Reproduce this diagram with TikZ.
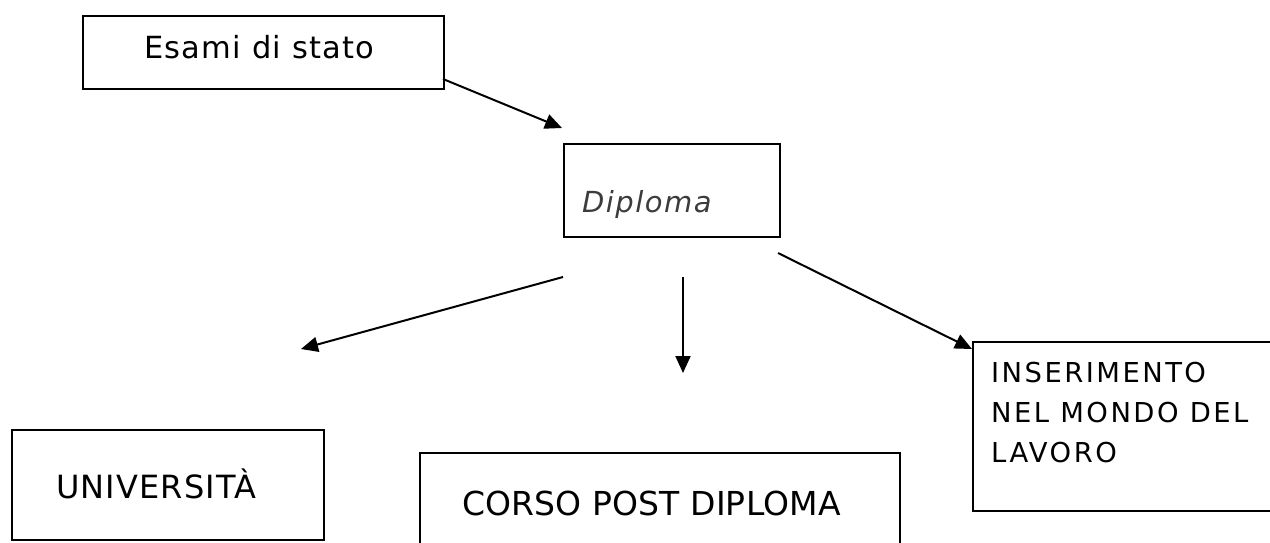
\documentclass[tikz,border=0pt]{standalone}
\usepackage{fontspec}
\usetikzlibrary{arrows.meta}
\newfontfamily\fEsami[LetterSpace=4]{DejaVu Sans}
\newfontfamily\fDipl[LetterSpace=5]{DejaVu Sans}
\newfontfamily\fUni[LetterSpace=3.5]{DejaVu Sans}
\newfontfamily\fCorso[LetterSpace=0.5]{DejaVu Sans}
\newfontfamily\fIns[LetterSpace=9]{DejaVu Sans}
\tikzset{
  boxnode/.style={draw=black, line width=2pt, inner sep=0pt, anchor=north west},
  txt/.style={inner sep=0pt, anchor=base west, text=black},
  arr/.style={line width=2pt, -{Triangle[length=17pt,width=15pt]}},
}
\begin{document}
\begin{tikzpicture}[x=1pt,y=-1pt]
\useasboundingbox (0,0) rectangle (1270,542);
\clip (0,0) rectangle (1270,542);
% boxes
\node[boxnode, minimum width=361pt, minimum height=73pt] (esami) at (82,15) {};
\node[boxnode, minimum width=216pt, minimum height=93pt] (dipl) at (563,143) {};
\node[boxnode, minimum width=312pt, minimum height=110pt] (uni) at (11,429) {};
\node[boxnode, minimum width=480pt, minimum height=120pt] (corso) at (419,452) {};
\node[boxnode, minimum width=330pt, minimum height=169pt] (ins) at (972,341) {};
% texts
\node[txt, font={\fEsami\fontsize{30.5}{36}\selectfont}] (tesami) at (144,58) {Esami di stato};
\node[txt, text={rgb,255:red,60;green,60;blue,60}, font={\fDipl\itshape\fontsize{29}{35}\selectfont}] (tdipl) at (582,212) {Diploma};
\node[txt, font={\fUni\fontsize{32}{38}\selectfont}] (tuni) at (56,498) {UNIVERSITÀ};
\node[txt, font={\fCorso\fontsize{33}{40}\selectfont}] (tcorso) at (462,515) {CORSO POST DIPLOMA};
\node[inner sep=0pt, anchor=north west, align=left, font={\fIns\fontsize{27.4}{40}\selectfont}] (tins) at (991,362) {INSERIMENTO\\NEL MONDO DEL\\LAVORO};
% arrow endpoints
\coordinate (a1s) at (443,79);
\coordinate (a1e) at (562,128);
\coordinate (a2s) at (563,277);
\coordinate (a2e) at (301,349);
\coordinate (a3s) at (683,277);
\coordinate (a3e) at (683,373);
\coordinate (a4s) at (778,253);
\coordinate (a4e) at (972,349);
\draw[arr] (a1s) -- (a1e);
\draw[arr] (a2s) -- (a2e);
\draw[arr] (a3s) -- (a3e);
\draw[arr] (a4s) -- (a4e);
\end{tikzpicture}
\end{document}
